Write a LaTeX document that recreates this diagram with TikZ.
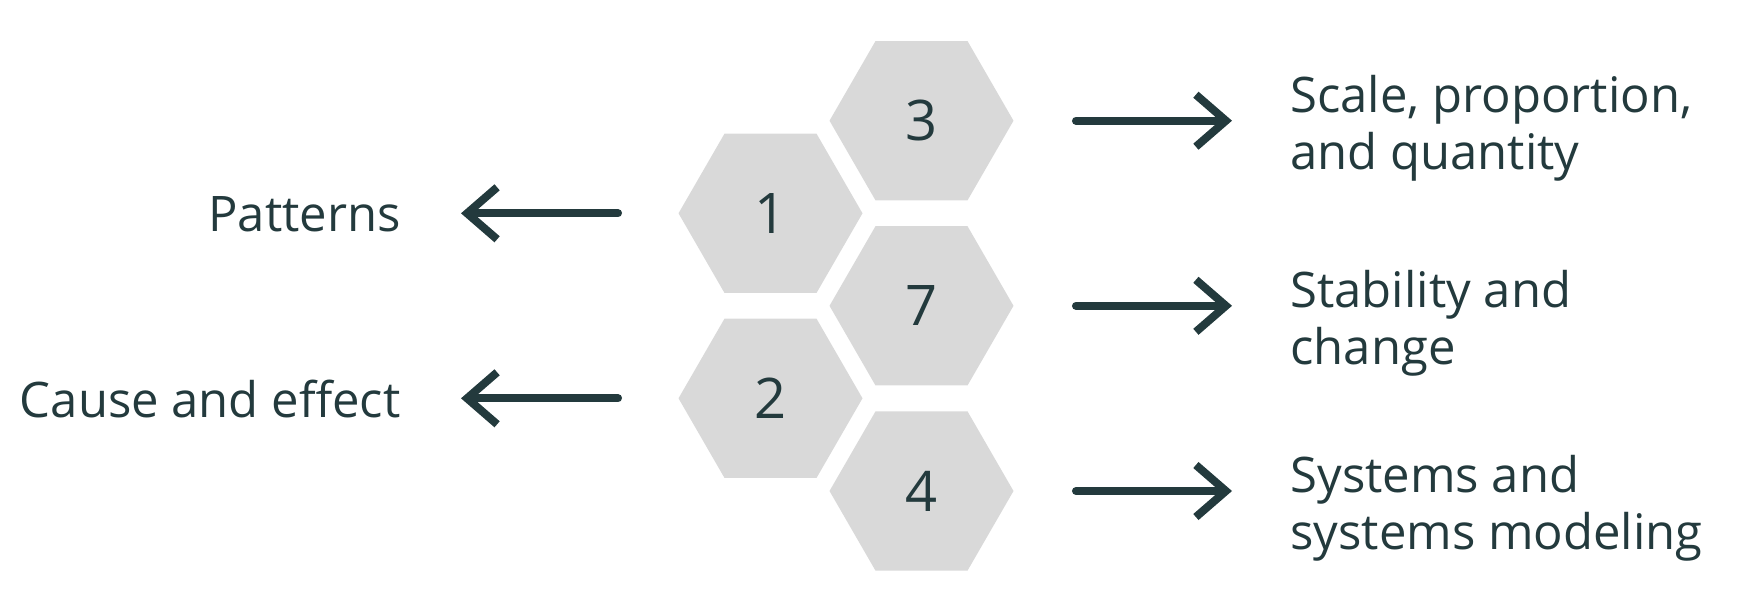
\documentclass[tikz,border=0pt]{standalone}
\usepackage{fontspec}
\setmainfont{Open Sans}
\usetikzlibrary{shapes.geometric,arrows.meta}
\definecolor{ink}{HTML}{233A3D}
\definecolor{hexgray}{HTML}{D9D9D9}
\begin{document}
\begin{tikzpicture}[x=0.5pt, y=-0.5pt, line join=round, line cap=round, >={Straight Barb[length=15pt,width=26pt]}]
	\tikzset{
	hexa/.style={regular polygon, regular polygon sides=6, minimum size=92pt, inner sep=0pt, fill=hexgray, text=ink, font=\fontsize{28}{30}\selectfont},
	lab/.style={inner sep=0pt, text=ink, align=left, font=\fontsize{24.5}{28.5}\selectfont},
	link/.style={->, ink, line width=4pt}
	}
	\useasboundingbox (0,0) rectangle (1740,612);
	% honeycomb
	\node[hexa] (h1) at (770.5,213.3) {1};
	\node[hexa] (h2) at (770.5,398.3) {2};
	\node[hexa] (h3) at (921.5,120.7) {3};
	\node[hexa] (h7) at (921.5,305.8) {7};
	\node[hexa] (h4) at (921.5,491) {4};
	% labels (base = last line)
	\node[lab, anchor=base east] (pat) at (401,231) {Patterns};
	\node[lab, anchor=base east] (cause) at (401,417) {Cause and effect};
	\node[lab, anchor=base west] (scale) at (1290,169) {Scale, proportion,\\and quantity};
	\node[lab, anchor=base west] (stab) at (1290,364) {Stability and\\change};
	\node[lab, anchor=base west] (sys) at (1290,549) {Systems and\\systems modeling};
	% arrows
	\foreach \h/\t in {h3/scale,h7/stab,h4/sys}{
	\draw[link, shorten <=31pt, shorten >=29pt] (\h.east) -- (\h.east -| \t.west);
	}
	\foreach \h/\t in {h1/pat,h2/cause}{
	\draw[link, shorten <=30pt, shorten >=30pt] (\h.west) -- (\h.west -| \t.east);
	}
\end{tikzpicture}
\end{document}
